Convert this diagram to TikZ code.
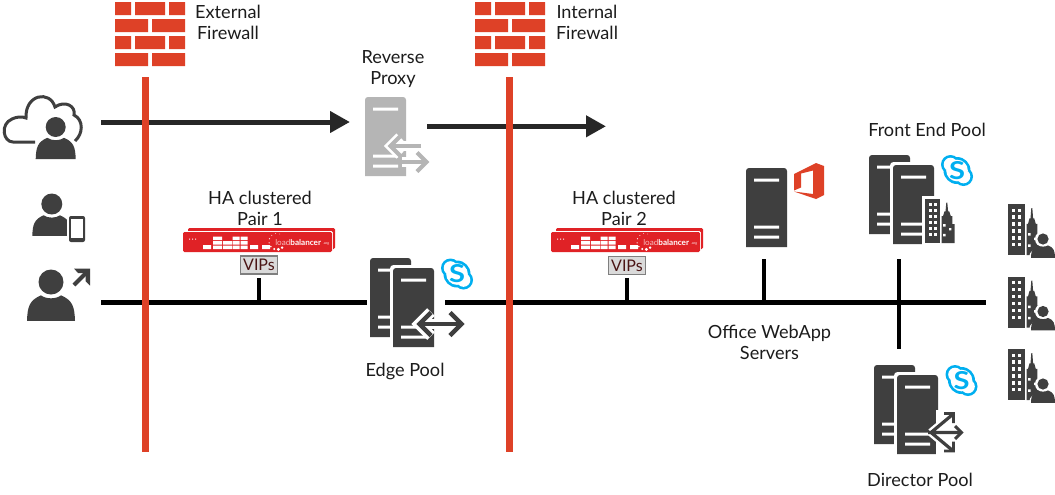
\documentclass[tikz,border=0pt]{standalone}
\usepackage{fontspec}
\setmainfont{Lato}
\usetikzlibrary{arrows.meta}
\definecolor{ink}{HTML}{1C1C1C}
\definecolor{dark}{HTML}{3F3F3F}
\definecolor{fwred}{HTML}{DE4127}
\definecolor{lbred}{HTML}{E02226}
\definecolor{proxygrey}{HTML}{B5B5B5}
\definecolor{skypeblue}{HTML}{00AFF0}
\definecolor{vipfill}{HTML}{DADADA}
\definecolor{vipedge}{HTML}{7F7F7F}
\definecolor{vipink}{HTML}{4A1414}
\tikzset{
  label text/.style={font=\fontsize{13.6}{15.75}\selectfont, text=ink, align=center, inner sep=0pt},
  iconbox/.style={minimum width=#1, inner sep=0pt, outer sep=0pt},
  flow/.style={line width=3.75pt, draw=ink!95, -{Triangle[length=15pt,width=15.5pt]}},
  bus/.style={line width=3.75pt, draw=black},
  stem/.style={line width=3pt, draw=black},
  wall/.style={fill=fwred, draw=none},
  vipbox/.style={draw=vipedge, line width=1pt, fill=vipfill, text=vipink, minimum width=27.5pt, minimum height=13.5pt, inner sep=0pt, font=\fontsize{12}{12}\selectfont},
}
% Brick wall icon, origin at its top left corner
\newcommand\brickwall[2]{%
  \begin{scope}[shift={(#1,#2)}]
    \foreach \yy in {0,34}{
      \fill[fwred] (0,\yy) rectangle (16,\yy+13) (20,\yy) rectangle (50,\yy+13) (54,\yy) rectangle (70,\yy+13);
      \fill[fwred] (0,\yy+17) rectangle (33,\yy+30) (37,\yy+17) rectangle (70,\yy+30);
    }
  \end{scope}}
% Tower server, origin at its top left corner
\newcommand\towerserver[3]{%
  \begin{scope}[shift={(#1,#2)}]
    \fill[white] (-3,82) -- (-3,40) [rounded corners=2.6pt] -- (-3,-3) -- (44,-3) -- (44,40) [sharp corners] -- (44,82) -- cycle;
    \fill[#3] (0,79) -- (0,40) [rounded corners=2.2pt] -- (0,0) -- (41,0) -- (41,40) [sharp corners] -- (41,79) -- cycle;
    \fill[white] (8,10.5) rectangle (33,13.5) (8,57.5) rectangle (33,60.5) (8,67.5) rectangle (33,70.5);
  \end{scope}}
% Communication-service badge: a ring with two lobes around a bold S
\newcommand\skypebadge[2]{%
  \begin{scope}[shift={(#1,#2)}]
    \fill[skypeblue] (0,0) circle (13.5) (-6.5,-6) circle (9.5) (6.5,6) circle (9.5);
    \fill[white] (0,0) circle (10.8) (-6.5,-6) circle (6.8) (6.5,6) circle (6.8);
    \node[text=skypeblue, inner sep=0pt, font=\fontsize{18.5}{19}\bfseries\selectfont] at (0,0) {\scalebox{1.18}[1]{S}};
  \end{scope}}
% Bust of a person: head centre, head radius, half width of the shoulders, colour
\newcommand\bust[5]{%
  \begin{scope}[shift={(#1,#2)}]
    \fill[#5] (0,0) circle (#3);
    \fill[#5] (-#4,#3+#4*1.1) .. controls (-#4*0.98,#3+#4*0.5) and (-#4*0.9,#3+#4*0.25) .. (-#4*0.42,#3+0.8)
      .. controls (-#4*0.2,#3+#4*0.2) and (#4*0.2,#3+#4*0.2) .. (#4*0.42,#3+0.8)
      .. controls (#4*0.9,#3+#4*0.25) and (#4*0.98,#3+#4*0.5) .. (#4,#3+#4*1.1) -- cycle;
  \end{scope}}
% Office block with a spired tower, origin at the block's top left corner
\newcommand\skyline[4]{%
  \begin{scope}[shift={(#1,#2)}]
    \fill[dark] (0,0) rectangle (#3,#4);
    \fill[dark] (#3+1.5,#4) -- (#3+1.5,#4*0.39) -- (#3+3,#4*0.39) -- (#3+4.5,#4*0.28) -- (#3+5.5,#4*0.28)
       -- (#3+6.3,#4*0.08) -- (#3+7.3,#4*0.08) -- (#3+8.1,#4*0.28) -- (#3+9.2,#4*0.28) -- (#3+10.8,#4*0.39)
       -- (#3+12.3,#4*0.39) -- (#3+12.3,#4*0.57) -- (#3+14.5,#4*0.57) -- (#3+14.5,#4) -- cycle;
    \foreach \rr in {0,...,5}{
      \foreach \cc in {0,1}{
        \fill[white] ({#3*0.24+\cc*#3*0.35},{#4*0.09+\rr*#4*0.135}) rectangle ++({#3*0.2},{#4*0.066});
      }
    }
    \fill[white] (#3+3,#4*0.57) rectangle ++(2.6,2.6) (#3+3,#4*0.79) rectangle ++(2.6,2.6) (#3+9,#4*0.66) rectangle ++(2.4,2.4);
  \end{scope}}
% Company icon: office block with a person in front
\newcommand\companyuser[2]{%
  \skyline{#1}{#2}{17}{51}
  \bust{#1+35}{#2+35}{8}{14.5}{white}
  \bust{#1+35}{#2+35}{5.6}{12}{dark}}
% Load balancer appliance pair, origin at the front unit's top left corner
\newcommand\lbunit[2]{%
  \begin{scope}[shift={(#1,#2)}]
    \fill[lbred, rounded corners=1pt] (5,-4) rectangle (152,17);
    \fill[white, rounded corners=1pt] (-0.8,-0.8) rectangle (149.8,20.8);
    \fill[lbred, rounded corners=1pt] (0,0) rectangle (149,20);
    \fill[white] (6,6.5) rectangle (7.2,7.7) (9,6.5) rectangle (10.2,7.7) (12,6.5) rectangle (13.2,7.7);
    \fill[white] (20,13) rectangle (28,17) (79,13) rectangle (87,17)(67,13) rectangle (75,17);
    \fill[white] (30,4.5) rectangle (39,8) (30,9) rectangle (39,12.5) (30,13.5) rectangle (39,17);
    \fill[white] (40,9) rectangle (49,12.5) (40,13.5) rectangle (49,17);
    \fill[white] (49.7,4.5) rectangle (56.5,8) (49.7,9) rectangle (56.5,12.5) (49.7,13.5) rectangle (56.5,17);
    \fill[white] (57.5,4.5) rectangle (64.5,8) (57.5,9) rectangle (64.5,12.5) (57.5,13.5) rectangle (64.5,17);
    \fill[white] (78.5,16) rectangle (81,17);
    \foreach \aa/\rad in {70/0.4,100/0.45,130/0.5,160/0.55,190/0.65,220/0.8,250/1.1,280/1.6,310/1.3}{
      \fill[white] ({94+8*cos(\aa)},{9.5+8*sin(\aa)*(-1)}) circle (\rad);
    }
    \node[anchor=west, text=white, inner sep=0pt, font=\fontsize{6.1}{6}\selectfont] at (92,10.5) {\textcolor{white!70!lbred}{load}\textbf{balancer}};
    \node[anchor=west, text=white, inner sep=0pt, font=\fontsize{2.6}{2.6}\selectfont] at (140,11.5) {.org};
  \end{scope}}
\begin{document}
\begin{tikzpicture}[x=0.75pt,y=-0.75pt]
\useasboundingbox (0,0) rectangle (1055,494);
\fill[white] (0,0) rectangle (1055,494);

% Named anchors of the two network runs
\node[iconbox=75.75pt, minimum height=60pt, anchor=east] (clouduser) at (101,122) {};
\node[iconbox=57.75pt, minimum height=45pt] (proxy) at (388.5,126.3) {};
\node[iconbox=75.75pt, minimum height=60pt, anchor=east] (remoteuser) at (101,302) {};
\node[iconbox=57pt, minimum height=60pt] (edge) at (407,302) {};
\coordinate (proxyexit) at (606,126.3);
\coordinate (busend) at (985.5,302);
\node[iconbox=34.5pt, minimum height=68.25pt] (office) at (764,213.5) {};
\node[iconbox=45pt, minimum height=78pt] (frontend) at (899,207) {};
\node[iconbox=37.5pt, minimum height=78pt] (director) at (899,401) {};

% Load balancer appliances and their virtual IP tags
\lbunit{183}{232}
\lbunit{551}{232}
\node[vipbox] (vip1) at (259,265) {VIPs};
\node[vipbox] (vip2) at (627,265.5) {VIPs};

% Network runs
\draw[flow] (clouduser.east) -- (clouduser.east -| proxy.west);
\draw[flow] (proxy.east) -- (proxyexit);
\draw[bus] (remoteuser.east) -- (edge.west);
\draw[bus] (edge.east) -- (busend);
\draw[stem, shorten <=2.5pt] (vip1.south) -- (vip1.south |- busend);
\draw[stem, shorten <=2pt] (vip2.south) -- (vip2.south |- busend);
\draw[stem] (office.south) -- (office.south |- busend);
\draw[stem] (frontend.south) -- (director.north);

% Firewalls
\brickwall{115}{2}
\brickwall{475}{2}
\fill[wall] (141.5,77) rectangle (148.5,452);
\fill[wall] (505.7,77) rectangle (512.7,452);

% Internet user: cloud outline behind a person
\draw[dark, line width=2.25pt, line cap=butt]
  (35,142) -- (13,142) .. controls (3,142) and (0,124) .. (12,119)
  .. controls (16,117) and (22,116) .. (26,118)
  .. controls (25,94) and (50,90) .. (55,107)
  .. controls (65,100) and (76,106) .. (74,115)
  .. controls (84,120) and (83,134) .. (75,141);
\bust{55.7}{127}{13}{24}{white}
\bust{55.7}{127}{10}{20}{dark}

% Mobile user
\bust{51.8}{204}{10.5}{19.5}{dark}
\fill[white, rounded corners=2pt] (67,214) rectangle (87,244);
\fill[dark, rounded corners=1.5pt] (69,216) rectangle (85,242);
\fill[white] (71,219) rectangle (83,237.5);

% Remote user with outward arrow
\bust{51}{282}{12.5}{24}{dark}
\draw[dark, line width=3pt, line cap=butt] (74,285) -- (87.5,271.5);
\fill[dark] (74,268.5) -- (90,268.5) -- (90,285.5) -- (85.5,281) -- (85.5,273) -- (78,273) -- cycle;

% Reverse proxy
\towerserver{365}{97}{proxygrey}
\draw[white, line width=7pt] (421,146) -- (392,146);
\draw[white, line width=7.5pt] (400,137) -- (391,146) -- (400,155);
\draw[proxygrey, line width=3.2pt] (421,146) -- (393,146);
\draw[proxygrey, line width=3pt] (400,136.5) -- (390.5,146) -- (400,155.5);
\draw[white, line width=7pt] (402,162) -- (424,162);
\draw[white, line width=7.5pt] (416,153) -- (425,162) -- (416,171);
\draw[proxygrey, line width=3.2pt] (400,162) -- (424,162);
\draw[proxygrey, line width=3pt] (417,152.5) -- (426.5,162) -- (417,171.5);

% Edge pool
\towerserver{370}{258}{dark}
\towerserver{393}{268}{dark}
\draw[white, line width=8pt] (422,324) -- (460,324);
\draw[white, line width=8pt] (431,312) -- (419,324) -- (431,336);
\draw[dark, line width=3.4pt] (420,324) -- (461,324);
\draw[dark, line width=3.4pt] (431,312.5) -- (419.5,324) -- (431,335.5) (450,312.5) -- (461.5,324) -- (450,335.5);
\skypebadge{457}{274}

% Office Web Apps server and product mark
\towerserver{746}{168}{dark}
\fill[fwred] (794,174) -- (816,163) -- (824,166) -- (824,195) -- (816,199) -- (794,191.5) -- (813,194) -- (813,170.5) -- (801,173.5) -- (801,187.5) -- (794,190.5) -- cycle;

% Front end pool
\towerserver{869}{155}{dark}
\towerserver{893}{165}{dark}
\fill[white] (922,196) rectangle (958,246);
\skyline{925}{199}{15}{44}
\skypebadge{957}{170.5}

% Director pool
\towerserver{874}{365}{dark}
\towerserver{897}{375}{dark}
\fill[white] (936,410) rectangle (966,456);
\draw[white, line width=6pt] (931,432.5) -- (960,432.5);
\draw[white, line width=6pt] (931,432.5) -- (952,415) (931,432.5) -- (952,450);
\draw[dark, line width=2.4pt] (928,432.5) -- (960,432.5) (931,432.5) -- (952,415) (931,432.5) -- (952,450);
\draw[dark, line width=2.2pt] (944,413.5) -- (953.5,413.5) -- (953.5,423) (955,426) -- (961.5,432.5) -- (955,439) (944,451) -- (953.5,451) -- (953.5,441.5);
\skypebadge{961.5}{380.5}

% Companies at the far end of the bus
\companyuser{1008}{204}
\companyuser{1008}{276.5}
\companyuser{1008}{349}

% Labels
\node[label text] (fw1label) at (228,22.5) {External\\Firewall};
\node[label text] (fw2label) at (587,22) {Internal\\Firewall};
\node[label text] (proxylabel) at (393,69) {Reverse\\Proxy};
\node[label text] (ha1label) at (260,208.5) {HA clustered\\Pair 1};
\node[label text] (ha2label) at (624,208.5) {HA clustered\\Pair 2};
\node[label text] (edgelabel) at (405,371.5) {Edge Pool};
\node[label text] (officelabel) at (769.5,342.5) {Office WebApp\\Servers};
\node[label text] (felabel) at (927,130) {Front End Pool};
\node[label text] (dirlabel) at (920,480) {Director Pool};
\end{tikzpicture}
\end{document}
